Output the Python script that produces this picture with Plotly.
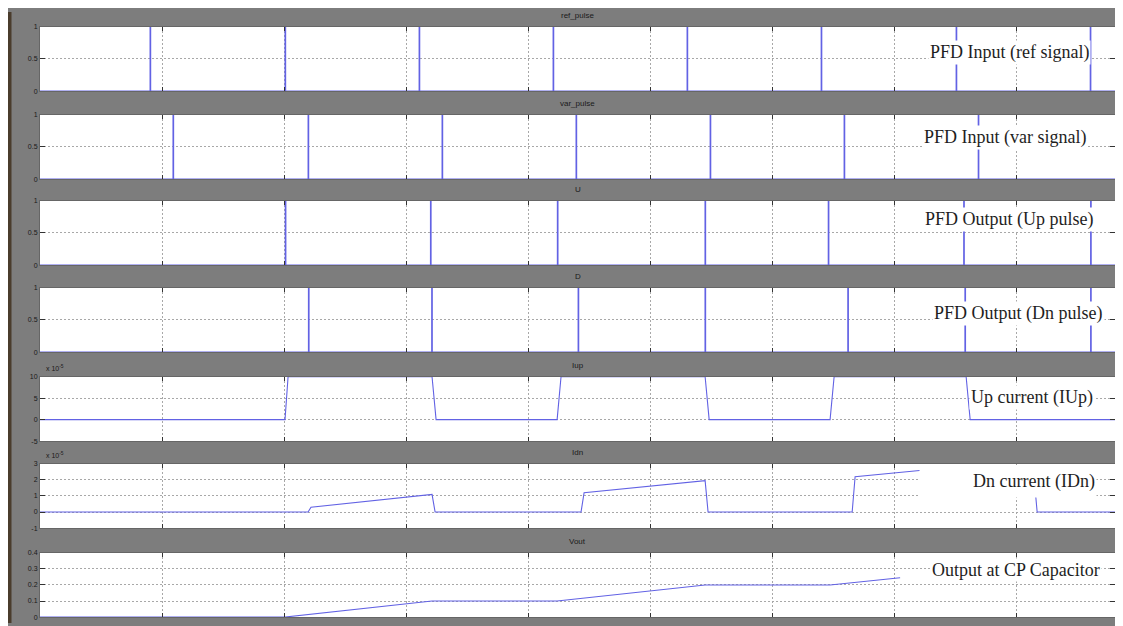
import plotly.graph_objects as go
from plotly.subplots import make_subplots

# ---------------- data (time in grid units, one unit per vertical grid line) ----------------
ref_pulse_t = [0.902, 2.008, 3.107, 4.205, 5.303, 6.402, 7.508, 8.607]
var_pulse_t = [1.090, 2.197, 3.295, 4.393, 5.492, 6.590, 7.689]
up_pulse_t = [2.010, 3.200, 4.240, 5.450, 6.460, 7.570, 8.610]
dn_pulse_t = [2.200, 3.210, 4.410, 5.450, 6.620, 7.580, 8.610]
pulse_width = 0.005

iup_t = [0, 2.008, 2.033, 3.213, 3.246, 4.238, 4.270, 5.451, 5.484, 6.475, 6.508, 7.590, 7.623, 8.811]
iup_v = [0, 0, 10, 10, 0, 0, 10, 10, 0, 0, 10, 10, 0, 0]          # x 1e-5

idn_t = [0, 2.197, 2.221, 3.213, 3.238, 4.434, 4.459, 5.451, 5.475, 6.656, 6.680, 7.230, 8.139, 8.172, 8.811]
idn_v = [0, 0, 0.3, 1.1, 0, 0, 1.2, 1.95, 0, 0, 2.2, 2.6, 2.8, 0, 0]  # x 1e-5

vout_t = [0, 2.008, 3.213, 4.238, 5.451, 6.475, 7.049]
vout_v = [0, 0, 0.1, 0.1, 0.2, 0.2, 0.245]

titles = ["ref_pulse", "var_pulse", "U", "D", "Iup", "Idn", "Vout"]
labels = ["PFD Input (ref signal)", "PFD Input (var signal)", "PFD Output (Up pulse)",
          "PFD Output (Dn pulse)", "Up current (IUp)", "Dn current (IDn)", "Output at CP Capacitor"]
y_ranges = [[0, 1], [0, 1], [0, 1], [0, 1], [-5, 10], [-1, 3], [0, 0.4]]
y_ticks = [[0, 0.5, 1]] * 4 + [[-5, 0, 5, 10], [-1, 0, 1, 2, 3], [0, 0.1, 0.2, 0.3, 0.4]]
y_ticktext = [["0", "0.5", "1"]] * 4 + [["-5", "0", "5", "10"], ["-1", "0", "1", "2", "3"],
                                        ["0", "0.1", "0.2", "0.3", "0.4"]]
x_end = 8.81


def pulses(times, w):
    xs, ys = [0.0], [0.0]
    for t in times:
        xs += [t, t, t + w, t + w]
        ys += [0, 1, 1, 0]
    xs.append(x_end)
    ys.append(0)
    return xs, ys


# ---------------- layout geometry (pixels, figure sits 8px in from page corner) ----------------
W, H = 1115, 618
XL, XR = 32, 1107
tops = [15, 104, 191, 279, 369, 457, 547]
ph = 65
label_pos = [(1001, 41), (997, 127), (1001, 210), (1010, 305), (1024, 390), (1000, 474), (1008, 564)]
label_box = [None, None, None, None, None, (174, 30), None]

BLUE = "#6262e4"
GRAY = "#7d7d7d"

fig = make_subplots(rows=7, cols=1)

series = [pulses(ref_pulse_t, pulse_width), pulses(var_pulse_t, pulse_width),
          pulses(up_pulse_t, pulse_width), pulses(dn_pulse_t, pulse_width),
          (iup_t, iup_v), (idn_t, idn_v), (vout_t, vout_v)]

for i, (xs, ys) in enumerate(series):
    fig.add_trace(go.Scatter(x=xs, y=ys, mode="lines", line=dict(color=BLUE, width=1.1),
                             showlegend=False, hoverinfo="skip"), row=i + 1, col=1)

annotations = []
for i in range(7):
    top = tops[i]
    y0 = 1 - (top + ph) / H
    y1 = 1 - top / H
    xa = "xaxis" if i == 0 else f"xaxis{i+1}"
    ya = "yaxis" if i == 0 else f"yaxis{i+1}"
    fig.layout[xa].update(domain=[XL / W, XR / W], range=[0, x_end], tick0=0, dtick=1,
                          showticklabels=False, showgrid=True, gridcolor="#a8a8a8",
                          griddash="2px,2px", gridwidth=1, ticks="inside", ticklen=4,
                          tickcolor="#333", showline=True, linecolor="#666", linewidth=1,
                          mirror="ticks", zeroline=False)
    fig.layout[ya].update(domain=[y0, y1], range=y_ranges[i], tickvals=y_ticks[i],
                          ticktext=y_ticktext[i], showgrid=True, gridcolor="#a8a8a8",
                          griddash="2px,2px", gridwidth=1, ticks="inside", ticklen=5,
                          tickcolor="#333", showline=True, linecolor="#666", linewidth=1,
                          mirror="ticks", zeroline=False,
                          tickfont=dict(family="Liberation Sans", size=7, color="#1a1a1a"))
    # panel title in gray band
    annotations.append(dict(xref="paper", yref="paper", x=(XL + XR) / 2 / W, y=1 - (top - 11) / H,
                            xanchor="center", yanchor="middle",
                            text=titles[i], showarrow=False,
                            font=dict(family="Liberation Sans", size=8, color="#1a1a1a")))
    lx, ly = label_pos[i]
    ann = dict(xref="paper", yref="paper", x=lx / W, y=1 - ly / H, text=labels[i],
               xanchor="center", yanchor="middle",
               showarrow=False, bgcolor="white", borderpad=1,
               font=dict(family="Liberation Serif", size=18, color="#1e1e1e"))
    if label_box[i]:
        ann.update(width=label_box[i][0], height=label_box[i][1], align="right")
    annotations.append(ann)

for yy in (tops[4] - 9, tops[5] - 9):
    annotations.append(dict(xref="paper", yref="paper", x=36 / W, y=1 - yy / H, xanchor="left",
                            yanchor="middle", text="x 10<sup>-5</sup>", showarrow=False,
                            font=dict(family="Liberation Sans", size=7, color="#1a1a1a")))

shapes = [
    dict(type="rect", xref="paper", yref="paper", x0=0, x1=3.5 / W, y0=0, y1=1,
         fillcolor="#4a3c2c", line=dict(width=0), layer="below"),
]

fig.update_layout(width=W, height=H, margin=dict(l=0, r=0, t=0, b=0),
                  paper_bgcolor=GRAY, plot_bgcolor="white",
                  annotations=annotations, shapes=shapes, showlegend=False)

fig.write_html("out.html")
